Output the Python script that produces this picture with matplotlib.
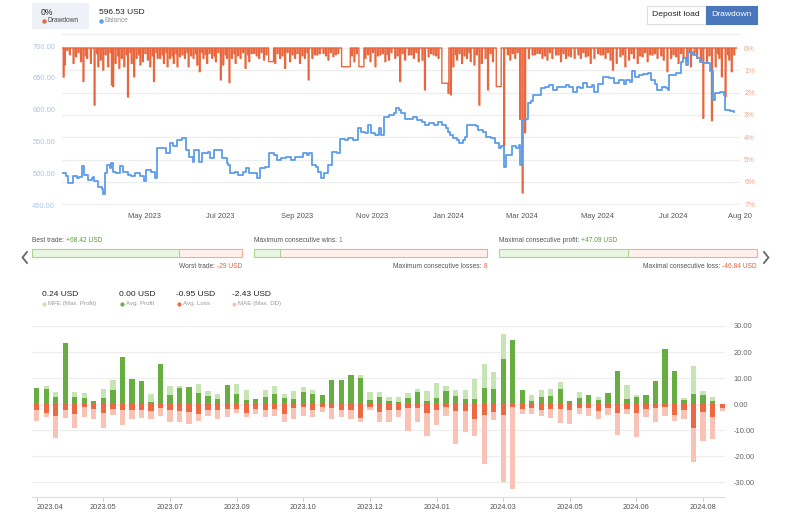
import pandas as pd
import matplotlib
matplotlib.use("Agg")
import matplotlib.pyplot as plt
from matplotlib.patches import Rectangle

plt.rcParams["font.family"] = ["Liberation Sans", "DejaVu Sans"]

# ---------------- data ----------------
start = pd.Timestamp("2023-02-23")
end_day = 548

# balance curve (day offset from start, USD)
bal_days = [0, 3, 5, 8, 9, 12, 14, 16, 18, 21, 24, 25, 26, 29, 32, 33, 35, 36, 39, 40,
            41, 44, 47, 49, 53, 56, 59, 63, 66, 68, 72, 75, 77, 80, 84, 87, 90, 93, 97, 100,
            103, 106, 107, 111, 113, 118, 120, 123, 128, 129, 133, 134, 136, 140, 142, 146, 149, 151, 154, 158,
            160, 164, 167, 171, 174, 177, 181, 185, 188, 192, 195, 198, 200, 202, 205, 207, 209, 212, 215, 218,
            222, 225, 229, 231, 235, 238, 239, 242, 245, 247, 250, 253, 256, 258, 260, 264, 268, 270, 272, 274,
            277, 281, 284, 287, 291, 293, 297, 301, 304, 307, 310, 312, 314, 316, 319, 321, 324, 326, 327, 331,
            335, 336, 340, 343, 347, 350, 353, 355, 357, 359, 362, 364, 367, 369, 370, 372, 375, 377, 379, 381,
            385, 387, 390, 394, 397, 400, 404, 407, 410, 413, 416, 419, 421, 424, 428, 430, 433, 437, 442, 446,
            450, 454, 456, 459, 461, 463, 466, 470, 474, 476, 479, 481, 485, 488, 490, 491, 496, 498, 500, 502,
            504, 506, 509, 510, 513, 516, 518, 521, 524, 526, 528, 532, 535, 536, 540, 543]
bal_vals = [500, 495, 485, 485, 496, 492, 494, 511, 497, 489, 492, 494, 487, 479, 475, 467, 500, 513, 508, 516,
            502, 500, 511, 502, 497, 495, 500, 495, 487, 505, 502, 492, 539, 539, 531, 547, 542, 552, 555, 537,
            526, 518, 537, 518, 531, 534, 524, 537, 537, 524, 516, 513, 500, 502, 497, 502, 508, 500, 500, 492,
            508, 510, 531, 529, 521, 524, 526, 521, 526, 526, 531, 529, 531, 513, 510, 502, 492, 500, 513, 534,
            531, 553, 552, 555, 552, 552, 571, 565, 563, 576, 563, 560, 571, 560, 589, 592, 594, 602, 600, 594,
            586, 585, 588, 584, 581, 576, 579, 576, 581, 576, 571, 565, 560, 555, 552, 547, 552, 557, 576, 576,
            574, 568, 565, 557, 555, 547, 539, 542, 510, 529, 529, 542, 539, 545, 513, 584, 586, 610, 613, 623,
            623, 634, 636, 639, 631, 636, 635, 639, 636, 628, 636, 634, 642, 636, 639, 628, 641, 652, 649, 642,
            647, 641, 647, 644, 660, 652, 654, 656, 658, 647, 641, 631, 636, 634, 631, 654, 657, 657, 675, 681,
            670, 691, 691, 686, 681, 675, 673, 673, 660, 615, 626, 628, 623, 599, 598, 596.53]

# drawdown spikes (day offset, %); longer episodes listed in dd_len
dd_days = [1, 2, 4, 9, 11, 15, 17, 20, 23, 26, 29, 31, 33, 37, 40, 41, 43, 46, 48, 50,
           53, 56, 58, 60, 63, 65, 69, 71, 74, 77, 79, 82, 85, 87, 90, 93, 95, 99, 102, 106,
           109, 111, 114, 117, 121, 124, 128, 130, 133, 135, 137, 140, 144, 148, 151, 155, 159, 163, 167, 172,
           176, 180, 184, 188, 192, 196, 199, 202, 206, 211, 215, 219, 223, 226, 236, 240, 245, 249, 253, 257,
           261, 264, 269, 273, 277, 280, 284, 288, 291, 293, 296, 300, 304, 307, 312, 314, 316, 319, 323, 327,
           330, 333, 337, 339, 342, 344, 348, 351, 357, 362, 366, 370, 372, 374, 377, 380, 384, 388, 392, 396,
           399, 403, 407, 411, 414, 419, 423, 427, 430, 435, 439, 443, 445, 448, 451, 455, 458, 462, 465, 469,
           473, 477, 481, 486, 489, 492, 496, 498, 502, 505, 508, 511, 513, 516, 518, 521, 525, 528, 531, 533,
           536, 539, 541, 543]
dd_vals = [1.3, 0.76, 0.1, 0.69, 0.39, 0.61, 1.5, 0.46, 0.69, 2.56, 0.84, 0.54, 0.99, 0.84, 1.66, 1.73, 0.69, 0.91, 0.46, 0.84,
           2.2, 0.69, 1.29, 0.46, 0.76, 0.61, 0.54, 0.84, 1.5, 0.46, 0.46, 0.69, 0.84, 0.46, 0.69, 0.84, 0.39, 0.46, 0.84, 0.46,
           0.76, 1.06, 0.46, 0.69, 0.46, 0.61, 1.43, 0.76, 0.46, 1.55, 0.46, 0.69, 0.46, 0.91, 0.61, 0.24, 0.46, 0.54, 0.61, 0.69,
           0.46, 0.91, 0.61, 0.46, 0.69, 0.46, 1.43, 0.46, 0.31, 0.24, 0.54, 0.39, 0.24, 0.84, 0.61, 0.84, 0.46, 0.61, 0.84, 0.31,
           0.61, 0.54, 0.46, 1.5, 0.54, 0.31, 0.46, 0.61, 0.54, 1.88, 0.39, 0.31, 0.46, 1.58, 2.03, 2.1, 0.84, 0.54, 0.69, 0.46,
           0.61, 0.76, 2.56, 0.69, 0.46, 1.88, 0.61, 1.73, 4.4, 0.54, 0.46, 3.2, 6.5, 3.8, 0.46, 0.31, 0.24, 0.46, 0.54, 0.46,
           0.31, 0.61, 0.46, 0.39, 0.46, 0.46, 0.39, 0.69, 0.46, 0.31, 0.46, 0.54, 0.99, 0.69, 0.39, 0.84, 0.54, 0.46, 0.69, 0.39,
           0.61, 0.31, 0.46, 0.54, 1.06, 0.46, 0.39, 0.69, 0.46, 0.61, 0.84, 0.24, 0.46, 0.61, 3.15, 0.69, 3.26, 0.84, 0.46, 1.29,
           2.18, 0.54, 1.06, 0.31]
dd_len = {167: 4, 226: 7, 240: 4, 307: 5, 351: 4}

# the many shallow dips between the larger ones
dd_small_days = [6, 13, 19, 28, 35, 39, 45, 52, 55, 62, 67, 73, 76, 81, 84, 89, 92, 97, 101, 104,
                 108, 113, 116, 119, 123, 126, 132, 139, 142, 146, 150, 153, 157, 161, 165, 174, 178, 182, 186, 190,
                 194, 198, 204, 208, 213, 217, 221, 234, 238, 247, 251, 255, 259, 263, 266, 271, 275, 282, 286, 298,
                 302, 318, 321, 325, 329, 335, 346, 360, 364, 368, 382, 386, 390, 394, 401, 405, 409, 417, 421, 425,
                 433, 437, 441, 453, 460, 467, 471, 475, 479, 484, 494, 500, 507, 523, 530, 538]
dd_small_vals = [0.3, 0.2, 0.35, 0.25, 0.3, 0.2, 0.35, 0.3, 0.2, 0.3, 0.25, 0.35, 0.2, 0.3, 0.2, 0.35, 0.25, 0.3, 0.2, 0.35,
                 0.25, 0.2, 0.3, 0.25, 0.35, 0.2, 0.3, 0.25, 0.35, 0.2, 0.3, 0.25, 0.35, 0.2, 0.3, 0.25, 0.35, 0.2, 0.3, 0.25,
                 0.35, 0.2, 0.3, 0.25, 0.35, 0.2, 0.3, 0.35, 0.25, 0.3, 0.2, 0.35, 0.25, 0.3, 0.2, 0.35, 0.25, 0.3, 0.2, 0.25,
                 0.35, 0.3, 0.25, 0.35, 0.2, 0.3, 0.25, 0.3, 0.25, 0.2, 0.3, 0.25, 0.35, 0.2, 0.3, 0.25, 0.35, 0.3, 0.2, 0.35,
                 0.25, 0.3, 0.2, 0.3, 0.25, 0.35, 0.2, 0.3, 0.25, 0.35, 0.3, 0.25, 0.2, 0.35, 0.25, 0.3]

top_ticks = ["2023-05-01", "2023-07-01", "2023-09-01", "2023-11-01",
             "2024-01-01", "2024-03-01", "2024-05-01", "2024-07-01"]
top_tick_labels = ["May 2023", "Jul 2023", "Sep 2023", "Nov 2023",
                   "Jan 2024", "Mar 2024", "May 2024", "Jul 2024"]
end_label = "Aug 20"
bal_ticks = [450, 500, 550, 600, 650, 700]
dd_ticks = [0, 1, 2, 3, 4, 5, 6, 7]

# trade statistics bars
best_trade, worst_trade = 68.42, 29.0
max_wins, max_losses = 1, 8
max_cons_profit, max_cons_loss = 47.09, 46.84

# weekly MFE / profit / loss / MAE
mfe = [6.4, 7.1, 4.5, 23.6, 4.6, 4.2, 1.3, 5.8, 9.4, 18.2, 9.6, 9.0, 4.0, 15.4, 7.1, 7.1, 6.5, 7.8, 5.1, 4.0,
       7.3, 7.8, 5.5, 1.9, 5.5, 6.8, 4.0, 4.9, 6.7, 5.5, 3.5, 9.4, 9.1, 11.3, 11.3, 4.5, 4.5, 2.9, 2.9, 4.2,
       5.8, 5.1, 8.1, 6.8, 5.3, 5.3, 9.6, 15.4, 12.2, 27.1, 24.5, 5.5, 3.6, 5.5, 5.8, 8.5, 1.4, 4.7, 3.6, 2.7,
       4.2, 12.8, 7.2, 3.5, 3.6, 9.0, 21.2, 12.6, 2.3, 14.7, 4.9, 2.6, 0.0]
profit = [6.4, 6.0, 2.7, 23.6, 2.8, 2.4, 1.3, 2.3, 5.6, 18.2, 9.6, 9.0, 0.9, 15.4, 3.6, 6.2, 6.5, 4.2, 3.2, 1.8,
          7.3, 3.8, 1.7, 1.9, 2.9, 4.0, 2.3, 2.1, 4.6, 3.8, 3.5, 9.4, 9.1, 11.3, 10.0, 1.7, 2.9, 1.4, 0.8, 2.3,
          4.6, 1.3, 2.3, 4.9, 3.3, 2.1, 2.1, 6.2, 5.8, 17.3, 24.5, 5.5, 1.4, 2.9, 3.2, 5.9, 1.4, 2.2, 3.6, 1.7,
          4.2, 12.8, 2.1, 2.9, 3.6, 9.0, 21.2, 12.6, 1.7, 3.8, 3.5, 1.3, 0.0]
loss = [-2.4, -3.5, -4.4, -2.4, -3.8, -1.2, -1.9, -3.5, -1.9, -2.4, -2.2, -2.2, -2.6, -1.5, -2.4, -2.8, -3.1, -3.8, -2.2, -2.2,
        -1.9, -1.9, -3.2, -1.9, -2.2, -1.9, -3.8, -1.5, -0.9, -2.4, -1.2, -1.5, -2.4, -2.4, -5.4, -1.2, -3.1, -2.4, -2.4, -1.5,
        -1.5, -3.5, -2.4, -1.2, -2.8, -2.8, -5.6, -4.1, -3.1, -4.1, -0.9, -1.9, -1.3, -2.2, -1.8, -1.8, -2.4, -1.3, -1.5, -2.8,
        -1.3, -3.2, -1.8, -3.2, -1.8, -1.5, -0.9, -4.1, -2.4, -9.0, -3.1, -5.0, -1.3]
mae = [-6.4, -5.0, -13.1, -5.4, -9.0, -5.0, -5.6, -9.0, -4.1, -7.9, -5.8, -5.4, -5.6, -4.7, -6.7, -6.7, -7.6, -6.3, -4.4, -5.8,
       -5.0, -3.5, -5.0, -3.8, -5.0, -4.7, -6.7, -5.8, -4.5, -5.0, -3.1, -5.8, -5.0, -5.6, -6.7, -2.2, -6.7, -6.9, -5.1, -10.3,
       -6.7, -12.2, -7.9, -4.4, -15.3, -10.5, -12.2, -22.9, -6.0, -29.7, -32.7, -3.7, -3.7, -4.5, -5.4, -7.1, -7.6, -3.8, -4.7, -5.8,
       -4.1, -11.8, -3.8, -12.7, -5.1, -6.7, -4.7, -6.3, -5.8, -22.1, -14.0, -13.5, -2.6]
bot_tick_idx = [0, 7, 14, 21, 28, 35, 42, 49, 56, 63, 70]
bot_tick_labels = ["2023.04", "2023.05", "2023.07", "2023.09", "2023.10", "2023.12",
                   "2024.01", "2024.03", "2024.05", "2024.06", "2024.08"]
bot_yticks = [-30, -20, -10, 0, 10, 20, 30]

# colours
C_DD = "#E9673E"
C_BAL = "#5C9CEB"
C_MFE = "#C6E4B4"
C_PROFIT = "#67AE42"
C_LOSS = "#EE6941"
C_MAE = "#F8C3B5"
GRID = "#EEEEEE"

W, H = 790, 513
fig = plt.figure(figsize=(W / 100, H / 100), dpi=100)

# overlay in pixel coordinates for the page decorations
deco = fig.add_axes([0, 0, 1, 1])
deco.set_xlim(0, W)
deco.set_ylim(H, 0)
deco.axis("off")

# ---------------- top chart ----------------
ax = fig.add_axes([62 / W, 1 - 205 / H, (740 - 62) / W, (205 - 46) / H])
ax2 = ax.twinx()
ax.set_zorder(ax2.get_zorder() + 1)
ax.patch.set_visible(False)

bal_dates = [start + pd.Timedelta(days=d) for d in bal_days]
ax.plot(bal_dates, bal_vals, drawstyle="steps-post", color=C_BAL, lw=1.3)

# drawdown step series built from the dips
events = sorted(list(zip(dd_days, dd_vals)) + list(zip(dd_small_days, dd_small_vals)))
ev_days = [d for d, _ in events]
dx, dy = [start], [0.0]
for i, (d, v) in enumerate(events):
    dx.append(start + pd.Timedelta(days=d))
    dy.append(v)
    back = d + dd_len.get(d, 0.7)
    nxt = ev_days[i + 1] if i + 1 < len(ev_days) else None
    if nxt != back:
        dx.append(start + pd.Timedelta(days=back))
        dy.append(0.0)
dx.append(start + pd.Timedelta(days=ev_days[-1] + 2))
dy.append(0.0)
ax2.plot(dx, dy, drawstyle="steps-post", color=C_DD, lw=1.0)

xmin, xmax = start, start + pd.Timedelta(days=end_day)
ax.set_xlim(xmin, xmax)
ax.set_ylim(450, 700)
ax2.set_ylim(7.04, -0.09)
ax.set_yticks(bal_ticks, [f"{v:.2f}" for v in bal_ticks])
ax2.set_yticks(dd_ticks, [f"{v}%" for v in dd_ticks])
ax2.grid(axis="y", color=GRID, lw=0.9)
tick_pos = [pd.Timestamp(t) for t in top_ticks] + [xmax]
ax.set_xticks(tick_pos, top_tick_labels + [end_label])
ax.tick_params(axis="x", length=0, labelsize=5.4, labelcolor="#555555", pad=6)
ax.tick_params(axis="y", length=0, labelsize=5.4, labelcolor="#A9C5EE", pad=5)
ax2.tick_params(axis="y", length=0, labelsize=5.4, labelcolor="#F2A487", pad=3)
for a in (ax, ax2):
    for s in a.spines.values():
        s.set_visible(False)

deco.plot([62, 740], [34, 34], color=GRID, lw=1.0)

# header
deco.add_patch(Rectangle((32, 3), 57, 26, color="#EEF2F8", lw=0))
deco.text(41, 12.5, "0%", fontsize=6.2, color="#222222", va="center")
deco.plot(44, 20.8, "o", ms=2.2, color=C_DD)
deco.text(47.5, 21, "Drawdown", fontsize=4.8, color="#444444", va="center")
deco.text(99, 12.5, "596.53 USD", fontsize=6.0, color="#222222", va="center")
deco.plot(101, 20.8, "o", ms=2.2, color=C_BAL)
deco.text(104.5, 21, "Balance", fontsize=4.8, color="#999999", va="center")

deco.add_patch(Rectangle((646.5, 6), 59.5, 17.5, facecolor="white", edgecolor="#DDDDDD", lw=0.8))
deco.text(676, 15, "Deposit load", fontsize=6.1, color="#222222", ha="center", va="center")
deco.add_patch(Rectangle((706, 6), 50.5, 17.5, facecolor="#4A76BC", edgecolor="#4A76BC", lw=0.8))
deco.text(731, 15, "Drawdown", fontsize=6.1, color="white", ha="center", va="center")

# ---------------- trade statistics ----------------
fig.canvas.draw()
renderer = fig.canvas.get_renderer()
inv = deco.transData.inverted()


def two_tone(x, y, label, value, vcol, ha="left"):
    kw = dict(fontsize=4.8, va="center")
    if ha == "left":
        t = deco.text(x, y, label, color="#555555", **kw)
        x1 = inv.transform((t.get_window_extent(renderer).x1, 0))[0]
        deco.text(x1, y, value, color=vcol, **kw)
    else:
        t = deco.text(x, y, value, color=vcol, ha="right", **kw)
        x0 = inv.transform((t.get_window_extent(renderer).x0, 0))[0]
        deco.text(x0, y, label, color="#555555", ha="right", **kw)


stats = [
    (32, 242, best_trade, worst_trade,
     ("Best trade: ", f"+{best_trade:.2f} USD"), ("Worst trade: ", f"-{worst_trade:g} USD")),
    (254, 487, max_wins, max_losses,
     ("Maximum consecutive wins: ", f"{max_wins}"), ("Maximum consecutive losses: ", f"{max_losses}")),
    (499, 757, max_cons_profit, max_cons_loss,
     ("Maximal consecutive profit: ", f"+{max_cons_profit:.2f} USD"),
     ("Maximal consecutive loss: ", f"-{max_cons_loss:.2f} USD")),
]
for x0, x1, good, bad, top_txt, bot_txt in stats:
    split = x0 + (x1 - x0) * good / (good + bad)
    deco.add_patch(Rectangle((split, 248.5), x1 - split, 8.5, facecolor="#FEF1EC",
                             edgecolor="#F5AA93", lw=0.8))
    deco.add_patch(Rectangle((x0, 248.5), split - x0, 8.5, facecolor="#EAF6E2",
                             edgecolor="#A9D692", lw=0.8))
    two_tone(x0, 240, top_txt[0], top_txt[1], "#5A9E3A")
    two_tone(x1, 266.5, bot_txt[0], bot_txt[1], "#E8603C", ha="right")

deco.plot([27, 22.5, 27], [252, 257.5, 263], color="#666666", lw=1.3)
deco.plot([764, 768.5, 764], [252, 257.5, 263], color="#666666", lw=1.3)

# legend of the bottom chart
legend_items = [(41.5, "0.24 USD", "MFE (Max. Profit)", C_MFE),
                (119, "0.00 USD", "Avg. Profit", C_PROFIT),
                (176.5, "-0.95 USD", "Avg. Loss", C_LOSS),
                (231.5, "-2.43 USD", "MAE (Max. DD)", C_MAE)]
for x, val, name, col in legend_items:
    deco.text(x, 295, val, fontsize=6.0, color="#222222", va="center")
    deco.plot(x + 2.5, 303.5, "o", ms=2.0, color=col)
    deco.text(x + 6.5, 303.8, name, fontsize=4.4, color="#999999", va="center")

# ---------------- bottom chart ----------------
ax3 = fig.add_axes([32 / W, 1 - 496.7 / H, (725 - 32) / W, (496.7 - 326) / H])
idx = list(range(len(profit)))
bw = 0.55
ax3.bar(idx, mfe, width=bw, color=C_MFE, zorder=2)
ax3.bar(idx, profit, width=bw, color=C_PROFIT, zorder=3)
ax3.bar(idx, mae, width=bw, color=C_MAE, zorder=2)
ax3.bar(idx, loss, width=bw, color=C_LOSS, zorder=3)
ax3.set_xlim(-0.5, 72.3)
ax3.set_ylim(-35.5, 30)
ax3.yaxis.tick_right()
ax3.set_yticks(bot_yticks, [f"{v:.2f}" for v in bot_yticks])
ax3.grid(axis="y", color=GRID, lw=0.9, zorder=0)
ax3.set_axisbelow(True)
ax3.set_xticks(bot_tick_idx, bot_tick_labels)
labels = ax3.get_xticklabels()
labels[0].set_horizontalalignment("left")
ax3.tick_params(axis="x", length=3, color="#CCCCCC", labelsize=5.3, labelcolor="#555555", pad=2)
ax3.tick_params(axis="y", length=0, labelsize=5.4, labelcolor="#666666", pad=6)
for name, s in ax3.spines.items():
    s.set_visible(name == "bottom")
ax3.spines["bottom"].set_color("#DDDDDD")

fig.savefig("out.png", dpi=100)
